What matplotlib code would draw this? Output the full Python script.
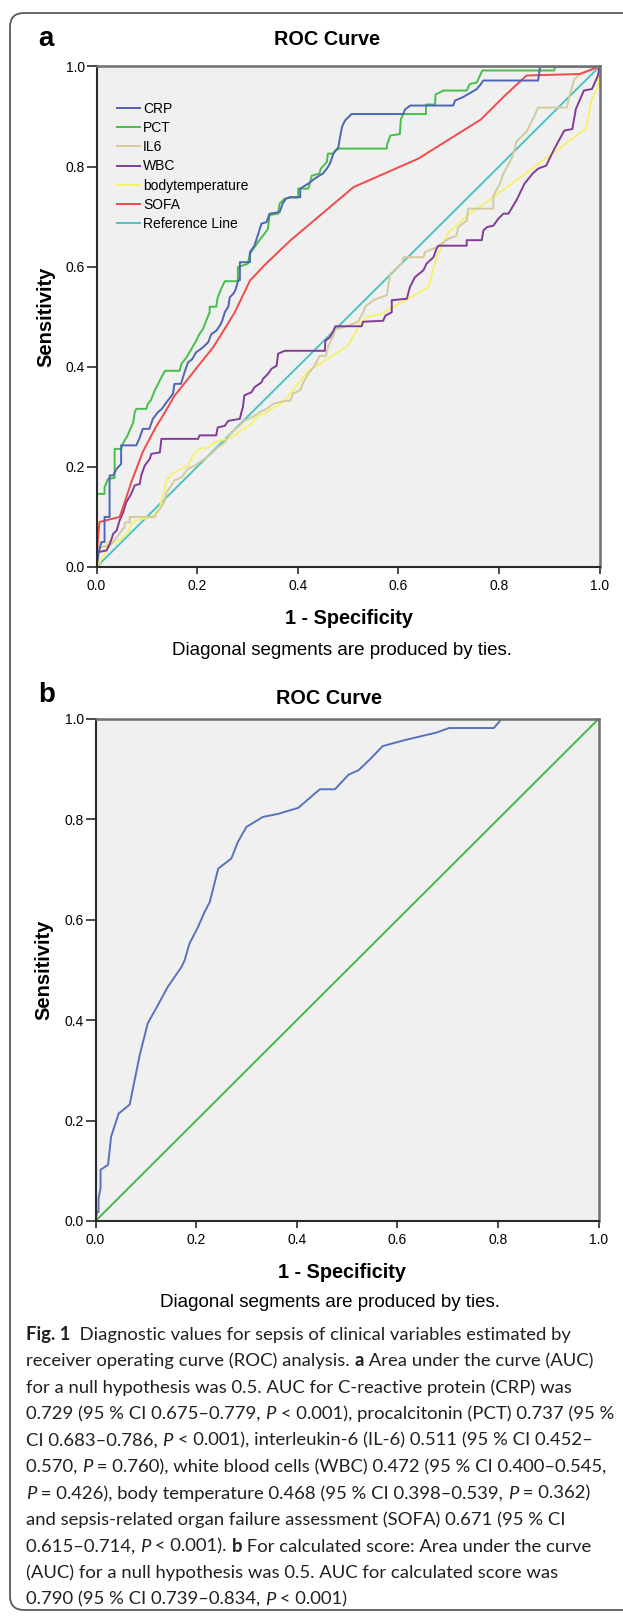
import matplotlib
matplotlib.use("Agg")
import matplotlib.pyplot as plt
from matplotlib.patches import FancyBboxPatch
from matplotlib.font_manager import FontProperties

plt.rcParams['font.family'] = ['Liberation Sans', 'DejaVu Sans']

# ---- panel a: ROC curves ----
crp_x = [0, 0.004, 0.01, 0.016, 0.016, 0.026, 0.026, 0.033, 0.04, 0.049, 0.049, 0.079, 0.085, 0.092,
         0.105, 0.112, 0.122, 0.13, 0.139, 0.152, 0.155, 0.168, 0.175, 0.182, 0.19, 0.198, 0.208, 0.215,
         0.222, 0.228, 0.238, 0.245, 0.25, 0.255, 0.262, 0.265, 0.272, 0.276, 0.282, 0.285, 0.285, 0.305,
         0.305, 0.314, 0.321, 0.328, 0.338, 0.344, 0.364, 0.37, 0.377, 0.385, 0.405, 0.405, 0.421, 0.438,
         0.45, 0.458, 0.464, 0.471, 0.481, 0.483, 0.488, 0.494, 0.502, 0.507, 0.61, 0.613, 0.624, 0.709,
         0.713, 0.729, 0.746, 0.756, 0.762, 0.769, 0.878, 0.882, 1.0]
crp_y = [0, 0.03, 0.05, 0.05, 0.1, 0.1, 0.183, 0.183, 0.196, 0.206, 0.243, 0.243, 0.256, 0.276,
         0.276, 0.296, 0.309, 0.316, 0.329, 0.346, 0.366, 0.366, 0.389, 0.409, 0.415, 0.429, 0.436, 0.442,
         0.449, 0.465, 0.472, 0.482, 0.492, 0.509, 0.52, 0.539, 0.546, 0.553, 0.573, 0.573, 0.609, 0.609,
         0.629, 0.642, 0.664, 0.686, 0.689, 0.706, 0.709, 0.726, 0.736, 0.739, 0.739, 0.756, 0.766, 0.779,
         0.786, 0.796, 0.806, 0.826, 0.839, 0.852, 0.879, 0.892, 0.9, 0.905, 0.905, 0.914, 0.922, 0.922,
         0.932, 0.939, 0.949, 0.955, 0.962, 0.972, 0.972, 1.0, 1.0]

pct_x = [0, 0, 0.016, 0.016, 0.023, 0.036, 0.036, 0.049, 0.052, 0.056, 0.062, 0.066, 0.073, 0.076,
         0.079, 0.099, 0.102, 0.108, 0.116, 0.126, 0.136, 0.165, 0.169, 0.179, 0.189, 0.198, 0.205, 0.212,
         0.218, 0.225, 0.225, 0.238, 0.241, 0.248, 0.255, 0.281, 0.281, 0.301, 0.305, 0.314, 0.324, 0.334,
         0.341, 0.344, 0.361, 0.364, 0.374, 0.385, 0.401, 0.401, 0.421, 0.425, 0.428, 0.443, 0.446, 0.458,
         0.46, 0.471, 0.474, 0.483, 0.577, 0.578, 0.584, 0.603, 0.605, 0.61, 0.655, 0.655, 0.673, 0.674,
         0.69, 0.736, 0.742, 0.756, 0.767, 0.91, 0.912, 1.0]
pct_y = [0, 0.146, 0.146, 0.159, 0.176, 0.178, 0.236, 0.236, 0.246, 0.253, 0.263, 0.273, 0.289, 0.309,
         0.316, 0.316, 0.326, 0.333, 0.353, 0.373, 0.392, 0.392, 0.406, 0.419, 0.436, 0.452, 0.466, 0.476,
         0.492, 0.509, 0.52, 0.52, 0.539, 0.556, 0.571, 0.571, 0.599, 0.606, 0.626, 0.639, 0.653, 0.666,
         0.676, 0.703, 0.706, 0.726, 0.736, 0.738, 0.738, 0.756, 0.756, 0.769, 0.782, 0.786, 0.796, 0.809,
         0.826, 0.826, 0.832, 0.836, 0.836, 0.845, 0.862, 0.865, 0.895, 0.905, 0.905, 0.924, 0.924, 0.944,
         0.952, 0.952, 0.965, 0.968, 0.992, 0.992, 1.0, 1.0]

il6_x = [0, 0.004, 0.008, 0.025, 0.03, 0.048, 0.056, 0.056, 0.066, 0.066, 0.116, 0.119, 0.126, 0.135,
         0.139, 0.149, 0.155, 0.169, 0.182, 0.196, 0.215, 0.228, 0.241, 0.255, 0.268, 0.281, 0.294, 0.314,
         0.324, 0.338, 0.351, 0.374, 0.385, 0.391, 0.405, 0.41, 0.421, 0.432, 0.444, 0.456, 0.461, 0.471,
         0.475, 0.491, 0.52, 0.53, 0.534, 0.55, 0.577, 0.584, 0.607, 0.61, 0.65, 0.653, 0.676, 0.7, 0.716,
         0.719, 0.736, 0.739, 0.789, 0.789, 0.802, 0.809, 0.827, 0.835, 0.855, 0.87, 0.878, 0.935, 0.94,
         0.95, 0.961, 0.985, 1.0]
il6_y = [0, 0.02, 0.04, 0.043, 0.046, 0.07, 0.08, 0.089, 0.089, 0.1, 0.1, 0.109, 0.116, 0.13,
         0.149, 0.163, 0.173, 0.179, 0.196, 0.203, 0.216, 0.226, 0.239, 0.249, 0.269, 0.279, 0.292, 0.302,
         0.309, 0.316, 0.326, 0.332, 0.332, 0.347, 0.353, 0.366, 0.386, 0.4, 0.422, 0.422, 0.442, 0.462,
         0.476, 0.479, 0.49, 0.509, 0.52, 0.533, 0.543, 0.586, 0.606, 0.619, 0.619, 0.629, 0.639, 0.656, 0.662,
         0.679, 0.692, 0.716, 0.716, 0.742, 0.766, 0.786, 0.82, 0.85, 0.87, 0.9, 0.918, 0.918, 0.94,
         0.975, 0.985, 0.995, 1.0]

wbc_x = [0, 0.002, 0.004, 0.02, 0.025, 0.03, 0.033, 0.04, 0.046, 0.053, 0.059, 0.069, 0.076, 0.086,
         0.089, 0.096, 0.106, 0.109, 0.126, 0.129, 0.202, 0.205, 0.238, 0.241, 0.255, 0.262, 0.285, 0.288,
         0.291, 0.294, 0.308, 0.314, 0.328, 0.331, 0.341, 0.348, 0.358, 0.361, 0.374, 0.454, 0.455, 0.464,
         0.471, 0.475, 0.527, 0.53, 0.57, 0.574, 0.587, 0.587, 0.617, 0.623, 0.633, 0.65, 0.656, 0.67,
         0.676, 0.68, 0.736, 0.736, 0.766, 0.769, 0.776, 0.789, 0.799, 0.809, 0.819, 0.835, 0.851, 0.867,
         0.878, 0.894, 0.91, 0.93, 0.946, 0.953, 0.969, 0.985, 0.997, 1.0]
wbc_y = [0, 0.02, 0.03, 0.033, 0.043, 0.056, 0.066, 0.073, 0.093, 0.109, 0.129, 0.146, 0.163, 0.166,
         0.183, 0.203, 0.216, 0.226, 0.229, 0.256, 0.256, 0.263, 0.263, 0.279, 0.282, 0.292, 0.296, 0.309,
         0.319, 0.343, 0.349, 0.359, 0.369, 0.376, 0.386, 0.396, 0.402, 0.426, 0.432, 0.432, 0.452, 0.459,
         0.472, 0.481, 0.481, 0.49, 0.492, 0.502, 0.509, 0.533, 0.536, 0.559, 0.579, 0.593, 0.606, 0.619,
         0.636, 0.642, 0.642, 0.653, 0.653, 0.672, 0.679, 0.682, 0.696, 0.706, 0.706, 0.733, 0.766, 0.786,
         0.796, 0.802, 0.835, 0.872, 0.875, 0.915, 0.952, 0.955, 0.982, 1.0]

temp_x = [0, 0.013, 0.023, 0.04, 0.049, 0.063, 0.069, 0.079, 0.109, 0.122, 0.129, 0.139, 0.149, 0.169,
          0.182, 0.192, 0.205, 0.222, 0.235, 0.248, 0.268, 0.288, 0.308, 0.321, 0.334, 0.348, 0.361, 0.371,
          0.385, 0.398, 0.421, 0.5, 0.524, 0.537, 0.566, 0.66, 0.676, 0.7, 0.742, 0.789, 0.812, 0.973,
          0.985, 0.997, 1.0]
temp_y = [0, 0.02, 0.05, 0.05, 0.056, 0.069, 0.086, 0.093, 0.1, 0.109, 0.129, 0.173, 0.186, 0.196,
          0.203, 0.223, 0.236, 0.239, 0.249, 0.253, 0.259, 0.273, 0.286, 0.302, 0.306, 0.316, 0.322, 0.329,
          0.346, 0.363, 0.392, 0.442, 0.486, 0.499, 0.506, 0.559, 0.619, 0.669, 0.706, 0.739, 0.756, 0.876,
          0.936, 0.96, 1.0]

sofa_x = [0, 0.003, 0.006, 0.046, 0.055, 0.069, 0.083, 0.092, 0.116, 0.136, 0.155, 0.182, 0.208, 0.232,
          0.255, 0.275, 0.305, 0.334, 0.361, 0.385, 0.511, 0.64, 0.764, 0.812, 0.855, 0.961, 1.0]
sofa_y = [0, 0.06, 0.09, 0.1, 0.126, 0.169, 0.206, 0.23, 0.276, 0.309, 0.342, 0.376, 0.409, 0.439,
          0.476, 0.509, 0.572, 0.603, 0.629, 0.652, 0.759, 0.816, 0.894, 0.942, 0.982, 0.985, 1.0]

ref_x = [0, 1]
ref_y = [0, 1]

# ---- panel b: calculated score ----
score_x = [0, 0.003, 0.006, 0.006, 0.01, 0.01, 0.025, 0.031, 0.046, 0.068, 0.088, 0.104, 0.124, 0.144,
           0.171, 0.177, 0.187, 0.204, 0.217, 0.227, 0.244, 0.27, 0.283, 0.3, 0.333, 0.363, 0.403, 0.446,
           0.476, 0.503, 0.523, 0.546, 0.571, 0.615, 0.678, 0.703, 0.792, 0.807, 1.0]
score_y = [0, 0.018, 0.018, 0.045, 0.065, 0.102, 0.112, 0.168, 0.214, 0.232, 0.331, 0.394, 0.43, 0.467,
           0.506, 0.519, 0.553, 0.586, 0.616, 0.635, 0.702, 0.722, 0.755, 0.785, 0.805, 0.811, 0.823, 0.86,
           0.86, 0.889, 0.898, 0.92, 0.946, 0.958, 0.973, 0.982, 0.982, 1.0, 1.0]

tick_vals = [0.0, 0.2, 0.4, 0.6, 0.8, 1.0]
tick_labels = ['0.0', '0.2', '0.4', '0.6', '0.8', '1.0']

caption = [
    [("Fig. 1", 'b'), ("  Diagnostic values for sepsis of clinical variables estimated by", 'n')],
    [("receiver operating curve (ROC) analysis. ", 'n'), ("a", 'b'), (" Area under the curve (AUC)", 'n')],
    [("for a null hypothesis was 0.5. AUC for C-reactive protein (CRP) was", 'n')],
    [("0.729 (95 % CI 0.675\u20130.779, ", 'n'), ("P", 'i'), (" < 0.001), procalcitonin (PCT) 0.737 (95 %", 'n')],
    [("CI 0.683\u20130.786, ", 'n'), ("P", 'i'), (" < 0.001), interleukin-6 (IL-6) 0.511 (95 % CI 0.452\u2013", 'n')],
    [("0.570, ", 'n'), ("P", 'i'), (" = 0.760), white blood cells (WBC) 0.472 (95 % CI 0.400\u20130.545,", 'n')],
    [("P", 'i'), (" = 0.426), body temperature 0.468 (95 % CI 0.398\u20130.539, ", 'n'), ("P", 'i'), (" = 0.362)", 'n')],
    [("and sepsis-related organ failure assessment (SOFA) 0.671 (95 % CI", 'n')],
    [("0.615\u20130.714, ", 'n'), ("P", 'i'), (" < 0.001). ", 'n'), ("b", 'b'), (" For calculated score: Area under the curve", 'n')],
    [("(AUC) for a null hypothesis was 0.5. AUC for calculated score was", 'n')],
    [("0.790 (95 % CI 0.739\u20130.834, ", 'n'), ("P", 'i'), (" < 0.001)", 'n')],
]

W, H = 623, 1617
fig = plt.figure(figsize=(W / 100, H / 100), dpi=100)
fig.patch.set_facecolor('white')

# full-figure axes in pixel units for the frame and the loose texts
bg = fig.add_axes([0, 0, 1, 1], zorder=0)
bg.set_xlim(0, W)
bg.set_ylim(H, 0)
bg.axis('off')
bg.add_patch(FancyBboxPatch((10, 13), 650, 1597, boxstyle='round,pad=0,rounding_size=14',
                            fc='white', ec='#5a5a5a', lw=1.3))


def px_axes(x0, ytop, w, h):
    return fig.add_axes([x0 / W, 1 - (ytop + h) / H, w / W, h / H], zorder=1)


def style(ax):
    ax.set_facecolor('#f0f0f0')
    ax.set_xlim(0, 1)
    ax.set_ylim(0, 1)
    ax.set_xticks(tick_vals)
    ax.set_yticks(tick_vals)
    ax.set_xticklabels(tick_labels)
    ax.set_yticklabels(tick_labels)
    for s in ['left', 'bottom']:
        ax.spines[s].set_color('#2a2a2a')
        ax.spines[s].set_linewidth(1.5)
    for s in ['top', 'right']:
        ax.spines[s].set_color('#707070')
        ax.spines[s].set_linewidth(1.8)
    ax.tick_params(axis='x', length=5, width=1.2, pad=4, labelsize=10, color='#2a2a2a')
    ax.tick_params(axis='y', length=7, width=1.2, pad=1.5, labelsize=10, color='#2a2a2a')


axa = px_axes(96.5, 66.5, 503, 500.5)
style(axa)
lw = 1.4
h_ref, = axa.plot(ref_x, ref_y, color='#4cc3c3', lw=lw)
h_temp, = axa.plot(temp_x, temp_y, color='#f6f070', lw=lw)
h_il6, = axa.plot(il6_x, il6_y, color='#d3cb9c', lw=lw)
h_wbc, = axa.plot(wbc_x, wbc_y, color='#813c96', lw=lw)
h_sofa, = axa.plot(sofa_x, sofa_y, color='#f04a4a', lw=lw)
h_pct, = axa.plot(pct_x, pct_y, color='#44bf4a', lw=lw)
h_crp, = axa.plot(crp_x, crp_y, color='#4e64b4', lw=lw)
axa.legend([h_crp, h_pct, h_il6, h_wbc, h_temp, h_sofa, h_ref],
           ['CRP', 'PCT', 'IL6', 'WBC', 'bodytemperature', 'SOFA', 'Reference Line'],
           loc='upper left', bbox_to_anchor=(0.04, 0.929), frameon=False, fontsize=10,
           handlelength=1.65, handletextpad=0.25, labelspacing=0.37, borderpad=0, borderaxespad=0)

axb = px_axes(95.5, 719, 503, 502)
style(axb)
axb.plot(ref_x, ref_y, color='#42b84c', lw=lw)
axb.plot(score_x, score_y, color='#5b71bd', lw=lw)

# panel texts (pixel coordinates, y downwards)
bg.text(38, 46.5, 'a', fontsize=20, fontweight='bold', va='baseline', ha='left')
bg.text(38, 701.5, 'b', fontsize=20, fontweight='bold', va='baseline', ha='left')
bg.text(326.5, 45, 'ROC Curve', fontsize=14.3, fontweight='bold', ha='center', va='baseline')
bg.text(329, 703.5, 'ROC Curve', fontsize=14.3, fontweight='bold', ha='center', va='baseline')
bg.text(45.5, 316.5, 'Sensitivity', fontsize=14.5, fontweight='bold', rotation=90, ha='center', va='center')
bg.text(44, 970, 'Sensitivity', fontsize=14.5, fontweight='bold', rotation=90, ha='center', va='center')
bg.text(349, 623.5, '1 - Specificity', fontsize=14.3, fontweight='bold', ha='center', va='baseline')
bg.text(341.5, 1278, '1 - Specificity', fontsize=14.3, fontweight='bold', ha='center', va='baseline')
bg.text(342.5, 655, 'Diagonal segments are produced by ties.', fontsize=13.5, ha='center', va='baseline')
bg.text(330, 1306.5, 'Diagonal segments are produced by ties.', fontsize=13.5, ha='center', va='baseline')

# caption, built from runs of regular / bold / italic text
renderer = fig.canvas.get_renderer()
cap_font = 'Lato'
cap_color = '#231f20'


def fprop(kind, size):
    return FontProperties(family=[cap_font, 'DejaVu Sans'], size=size,
                          weight='bold' if kind == 'b' else 'normal',
                          style='italic' if kind == 'i' else 'normal')


def run_width(s, fp):
    w1, _, _ = renderer.get_text_width_height_descent(s + 'x', fp, ismath=False)
    w2, _, _ = renderer.get_text_width_height_descent('x', fp, ismath=False)
    return w1 - w2


# fit the size so the widest line stays inside the 588 px text block
widest = max(sum(run_width(s, fprop(k, 13)) for s, k in line) for line in caption)
cap_size = 13 * 586 / widest

for i, line in enumerate(caption):
    x = 26
    yb = 1339.5 + i * 26.5
    for s, k in line:
        fp = fprop(k, cap_size)
        bg.text(x, yb, s, fontproperties=fp, color=cap_color, ha='left', va='baseline')
        x += run_width(s, fp)

fig.savefig('out.png', dpi=100)
